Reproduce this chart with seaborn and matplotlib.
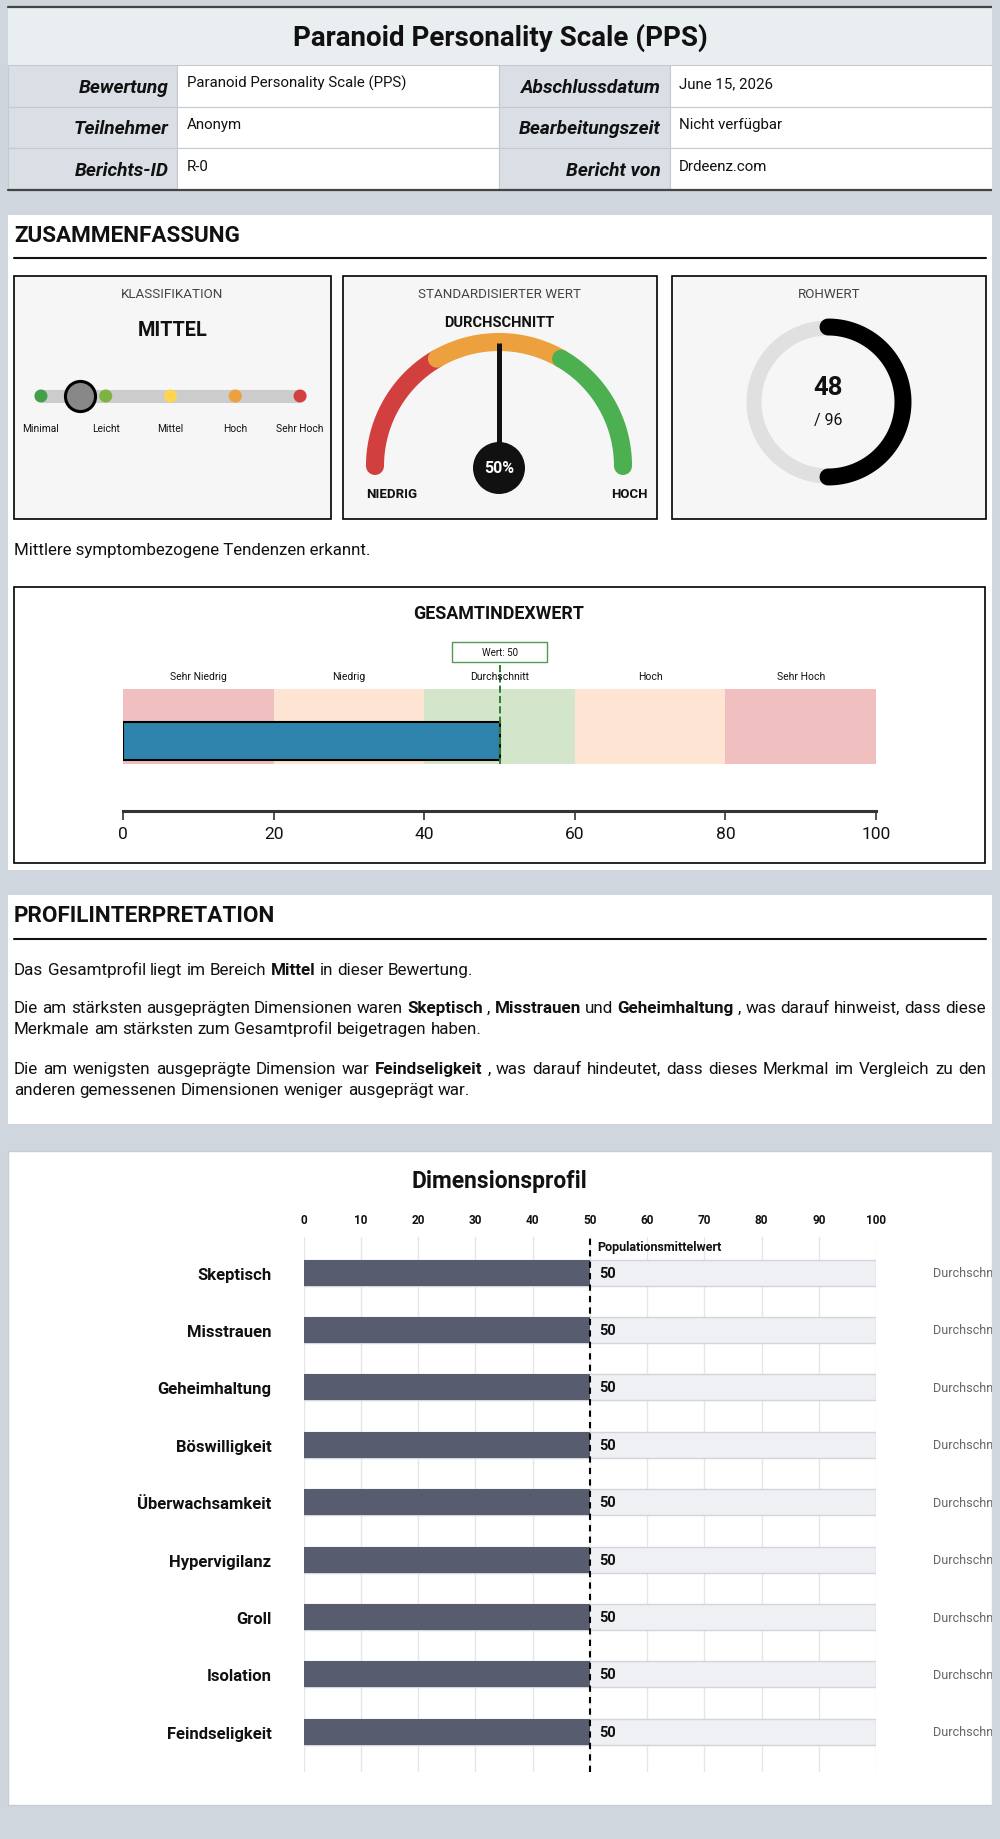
import numpy as np
import pandas as pd
import matplotlib
matplotlib.use("Agg")
import matplotlib.pyplot as plt
from matplotlib import patches
import seaborn as sns

# ---------------- data ----------------
report_title = "Paranoid Personality Scale (PPS)"
info_labels_left = ["Bewertung", "Teilnehmer", "Berichts-ID"]
info_values_left = ["Paranoid Personality Scale (PPS)", "Anonym", "R-0"]
info_labels_right = ["Abschlussdatum", "Bearbeitungszeit", "Bericht von"]
info_values_right = ["June 15, 2026", "Nicht verfügbar", "Drdeenz.com"]

class_levels = ["Minimal", "Leicht", "Mittel", "Hoch", "Sehr Hoch"]
class_colors = ["#43a047", "#7cb342", "#fdd54f", "#eda040", "#d43f3f"]
class_result = "MITTEL"
class_marker = 0.6  # marker position on the level track

std_score = 50
gauge_edges = [0, 33.3, 66.7, 100]
gauge_colors = ["#d23f3f", "#eca03e", "#4caf50"]
gauge_label = "DURCHSCHNITT"

raw_score = 48
raw_max = 96

summary_text = "Mittlere symptombezogene Tendenzen erkannt."

index_edges = [0, 20, 40, 60, 80, 100]
index_bands = ["Sehr Niedrig", "Niedrig", "Durchschnitt", "Hoch", "Sehr Hoch"]
index_colors = ["#f0c0c1", "#fde4d3", "#d3e6cb", "#fde4d3", "#f0c0c1"]
index_score = 50

dimensions = ["Skeptisch", "Misstrauen", "Geheimhaltung", "Böswilligkeit",
              "Überwachsamkeit", "Hypervigilanz", "Groll", "Isolation",
              "Feindseligkeit"]
dim_scores = [50, 50, 50, 50, 50, 50, 50, 50, 50]
dim_max = [100, 100, 100, 100, 100, 100, 100, 100, 100]
dim_levels = ["Durchschnitt"] * 9
population_mean = 50

PAGE = "#cfd6de"
LABEL_BG = "#d9dfe5"

sns.set_theme(style="white")
plt.rcParams["font.family"] = ["Roboto", "DejaVu Sans"]

fig = plt.figure(figsize=(10, 18.4), dpi=100)
fig.patch.set_facecolor(PAGE)
bg = fig.add_axes([0, 0, 1, 1])
bg.set_xlim(0, 1000)
bg.set_ylim(1840, 0)
bg.axis("off")


def px_axes(x0, y0, x1, y1):
    ax = fig.add_axes([x0 / 1000, 1 - y1 / 1840, (x1 - x0) / 1000, (y1 - y0) / 1840])
    ax.set_facecolor("none")
    return ax


def rect(x0, y0, x1, y1, **kw):
    bg.add_patch(patches.Rectangle((x0, y0), x1 - x0, y1 - y0, **kw))


def rich_line(y, runs, x0=14, x1=986, size=12.25, justify=False):
    # words placed one by one so bold runs and justified lines can be mixed
    words = []
    for txt, bold in runs:
        for w in txt.split():
            words.append((w, bold))
    base = y + size * 100 / 72 * 0.36
    arts = [bg.text(0, base, w, fontsize=size, fontweight="bold" if b else "normal",
                    va="baseline", ha="left", color="#111") for w, b in words]
    r = fig.canvas.get_renderer()
    widths = [t.get_window_extent(r).width for t in arts]
    gap = size * 100 / 72 * 0.25
    if justify:
        gap = (x1 - x0 - sum(widths)) / (len(widths) - 1)
    x = x0
    for t, w in zip(arts, widths):
        t.set_x(x)
        x += w + gap


# ---------------- header table ----------------
rect(8, 8, 992, 66, fc="#e9eef1", ec="none")
bg.text(500, 38, report_title, ha="center", va="center", fontsize=20, fontweight="bold", color="#111")
row_h = (191 - 66) / 3
for i in range(3):
    y0 = 66 + i * row_h
    yc = y0 + row_h / 2
    for (a, b), fc in zip([(8, 177), (177, 499), (499, 670), (670, 992)],
                          [LABEL_BG, "white", LABEL_BG, "white"]):
        rect(a, y0, b, y0 + row_h, fc=fc, ec="#c4cad0", lw=0.8)
    bg.text(169, yc + 1, info_labels_left[i], ha="right", va="center", fontsize=13.8,
            fontweight="bold", fontstyle="italic", color="#111")
    bg.text(661, yc + 1, info_labels_right[i], ha="right", va="center", fontsize=13.8,
            fontweight="bold", fontstyle="italic", color="#111")
    bg.text(187, yc - 3, info_values_left[i], ha="left", va="center", fontsize=10.8, color="#111")
    bg.text(679, yc - 3, info_values_right[i], ha="left", va="center", fontsize=10.8, color="#111")
bg.plot([8, 992], [8, 8], color="#444", lw=1.6)
bg.plot([8, 992], [191, 191], color="#444", lw=1.6)

# ---------------- summary panel ----------------
rect(8, 216, 992, 871, fc="white", ec="none")
bg.text(14, 236, "ZUSAMMENFASSUNG", ha="left", va="center", fontsize=16.2, fontweight="bold", color="#111")
bg.plot([14, 986], [259, 259], color="#111", lw=1.5)

boxes = [(14, 331), (343, 657), (672, 986)]
box_titles = ["KLASSIFIKATION", "STANDARDISIERTER WERT", "ROHWERT"]
for (a, b), t in zip(boxes, box_titles):
    rect(a, 277, b, 520, fc="#f6f6f6", ec="black", lw=1.2)
    bg.text((a + b) / 2, 294, t, ha="center", va="center", fontsize=9.6, color="#444")

# classification track
bg.text(172.5, 331, class_result, ha="center", va="center", fontsize=14.3, fontweight="bold", color="#111")
ax_c = px_axes(20.2, 377, 320.8, 417)
ax_c.set_xlim(-0.32, 4.32)
ax_c.set_ylim(-1, 1)
ax_c.plot([0, len(class_levels) - 1], [0, 0], color="#cccccc", lw=9.4, solid_capstyle="butt", zorder=1)
ax_c.scatter(range(len(class_levels)), [0] * len(class_levels), s=88, c=class_colors, linewidths=0, zorder=2)
ax_c.scatter([class_marker], [0], s=470, fc="#888888", ec="black", lw=2.2, zorder=3)
ax_c.set_xticks(range(len(class_levels)), class_levels)
ax_c.set_yticks([])
ax_c.tick_params(axis="x", length=0, labelsize=7.4, pad=5, labelcolor="#111")
for s in ax_c.spines.values():
    s.set_visible(False)

# gauge
ax_g = px_axes(343, 277, 657, 519)
ax_g.set_xlim(-156, 158)
ax_g.set_ylim(-52, 190)
ax_g.axis("off")
for e0, e1, col in zip(gauge_edges[:-1], gauge_edges[1:], gauge_colors):
    th = np.linspace(np.pi * (1 - e0 / 100), np.pi * (1 - e1 / 100), 80)
    ax_g.plot(124 * np.cos(th), 124 * np.sin(th), color=col, lw=13, solid_capstyle="round")
ang = np.pi * (1 - std_score / 100)
ax_g.plot([0, 123 * np.cos(ang)], [0, 123 * np.sin(ang)], color="#111", lw=3.6, solid_capstyle="butt")
ax_g.add_patch(patches.Circle((0, -2), 26, fc="#111", ec="none", zorder=5))
ax_g.text(0, -2, f"{std_score}%", ha="center", va="center", color="white", fontsize=11.5,
          fontweight="bold", zorder=6)
ax_g.text(0, 144, gauge_label, ha="center", va="center", fontsize=10.5, fontweight="bold", color="#111")
ax_g.text(-107, -28, "NIEDRIG", ha="center", va="center", fontsize=9.5, fontweight="bold", color="#111")
ax_g.text(130, -28, "HOCH", ha="center", va="center", fontsize=9.5, fontweight="bold", color="#111")

# raw score donut
ax_d = px_axes(672, 277, 986, 520)
ax_d.set_xlim(-156, 158)
ax_d.set_ylim(-117, 126)
ax_d.axis("off")
th = np.linspace(0, 2 * np.pi, 200)
ax_d.plot(74 * np.cos(th), 74 * np.sin(th), color="#e0e0e0", lw=10.8)
th = np.linspace(np.pi / 2, np.pi / 2 - 2 * np.pi * raw_score / raw_max, 120)
ax_d.plot(75 * np.cos(th), 75 * np.sin(th), color="black", lw=12.2, solid_capstyle="round")
ax_d.text(0, 15, str(raw_score), ha="center", va="center", fontsize=18.5, fontweight="bold", color="#111")
ax_d.text(0, -18, f"/ {raw_max}", ha="center", va="center", fontsize=11.5, color="#111")

bg.text(14, 551, summary_text, ha="left", va="center", fontsize=12.2, color="#111")

# overall index bar
rect(14, 588, 985, 864, fc="white", ec="black", lw=1.2)
bg.text(499, 614, "GESAMTINDEXWERT", ha="center", va="center", fontsize=12.9, fontweight="bold", color="#111")
ax_i = px_axes(123, 640, 876, 812)
ax_i.set_xlim(0, 100)
ax_i.set_ylim(1.127, -1.167)
ax_i.barh(0, np.diff(index_edges), left=index_edges[:-1], height=1.0, color=index_colors, lw=0)
ax_i.barh(0.193, index_score, height=0.507, color="#2e84ad", ec="black", lw=1.5)
ax_i.plot([index_score, index_score], [-0.82, 0.5], color="#2e7d32", ls="--", lw=1.4)
for e0, e1, name in zip(index_edges[:-1], index_edges[1:], index_bands):
    ax_i.text((e0 + e1) / 2, -0.673, name, ha="center", va="center", fontsize=7.5, color="#111")
ax_i.add_patch(patches.Rectangle((index_score - 6.25, -1.126), 12.5, 0.267, fc="white",
                                 ec="#4f9a55", lw=1))
ax_i.text(index_score, -0.993, f"Wert: {index_score}", ha="center", va="center", fontsize=7, color="#111")
for k in ["top", "left", "right"]:
    ax_i.spines[k].set_visible(False)
ax_i.spines["bottom"].set_linewidth(2.2)
ax_i.spines["bottom"].set_color("#333")
ax_i.set_xticks(index_edges)
ax_i.set_yticks([])
ax_i.tick_params(axis="x", length=6.5, width=1.2, color="#333", labelsize=12.5, pad=4,
                 labelcolor="#111", bottom=True)

# ---------------- interpretation panel ----------------
rect(8, 896, 992, 1125, fc="white", ec="none")
bg.text(14, 916, "PROFILINTERPRETATION", ha="left", va="center", fontsize=16.2, fontweight="bold", color="#111")
bg.plot([14, 986], [940, 940], color="#111", lw=1.5)
rich_line(969, [("Das Gesamtprofil liegt im Bereich", False), ("Mittel", True),
                ("in dieser Bewertung.", False)])
rich_line(1007, [("Die am stärksten ausgeprägten Dimensionen waren", False), (dimensions[0], True),
                 (",", False), (dimensions[1], True), ("und", False), (dimensions[2], True),
                 (", was darauf hinweist, dass diese", False)], justify=True)
rich_line(1028, [("Merkmale am stärksten zum Gesamtprofil beigetragen haben.", False)])
rich_line(1068, [("Die am wenigsten ausgeprägte Dimension war", False), (dimensions[-1], True),
                 (", was darauf hindeutet, dass dieses Merkmal im Vergleich zu den", False)], justify=True)
rich_line(1089, [("anderen gemessenen Dimensionen weniger ausgeprägt war.", False)])

# ---------------- dimension profile ----------------
rect(8, 1152, 992, 1806, fc="white", ec="#c9cdd2", lw=1)
bg.text(499, 1182, "Dimensionsprofil", ha="center", va="center", fontsize=16.5, fontweight="bold", color="#111")
ax_p = px_axes(303.5, 1238, 876, 1773)
df = pd.DataFrame({"Dimension": dimensions, "Wert": dim_scores, "Max": dim_max})
sns.barplot(data=df, y="Dimension", x="Max", orient="h", color="#eff0f4", saturation=1,
            edgecolor="#d2d5db", linewidth=1, width=0.45, errorbar=None, ax=ax_p)
sns.barplot(data=df, y="Dimension", x="Wert", orient="h", color="#575d6e", saturation=1,
            linewidth=0, width=0.45, errorbar=None, ax=ax_p)
ax_p.set_xlim(0, 100)
ax_p.set_ylim(8.70, -0.62)
ax_p.set_xlabel("")
ax_p.set_ylabel("")
ax_p.set_xticks(range(0, 101, 10))
ax_p.grid(axis="x", color="#e6e6e6", lw=1)
ax_p.grid(axis="y", visible=False)
ax_p.set_axisbelow(True)
ax_p.xaxis.tick_top()
ax_p.tick_params(axis="x", length=0, labelsize=8.5, pad=8, labelcolor="#111")
ax_p.tick_params(axis="y", length=0, labelsize=12, pad=23, labelcolor="#111")
for lbl in ax_p.get_xticklabels() + ax_p.get_yticklabels():
    lbl.set_fontweight("bold")
for s in ax_p.spines.values():
    s.set_visible(False)
ax_p.axvline(population_mean, color="black", ls=(0, (3, 2.5)), lw=1.5, zorder=5)
ax_p.text(population_mean + 1.3, -0.463, "Populationsmittelwert", ha="left", va="center",
          fontsize=9, fontweight="bold", color="#111")
for i, (v, lev) in enumerate(zip(dim_scores, dim_levels)):
    ax_p.text(v + 1.6, i, str(v), ha="left", va="center", fontsize=10.5, fontweight="bold", color="#111")
    ax_p.text(110, i, lev, ha="left", va="center", fontsize=9.1, color="#666", clip_on=False)

# page margin on the right cuts the level text, as in the source report
fig.add_artist(patches.Rectangle((0.992, 0), 0.008, 1, transform=fig.transFigure,
                                 fc=PAGE, ec="none", zorder=10))

fig.savefig("out.png", dpi=100, facecolor=PAGE)
